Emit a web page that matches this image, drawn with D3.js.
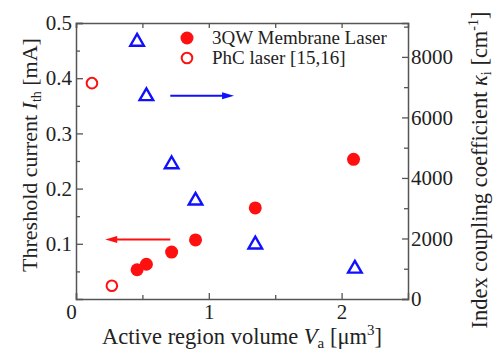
<!DOCTYPE html>
<html><head><meta charset="utf-8">
<script src="https://cdn.jsdelivr.net/npm/d3@7"></script>
<style>
body{margin:0;background:#fff;}
text{font-family:"Liberation Serif","Times New Roman",serif;fill:#222;}
</style></head>
<body><svg id="c" width="495" height="356"></svg>
<script>
// Data
const membraneVolume = [0.46, 0.53, 0.72, 0.90, 1.35, 2.09];
const membraneIth    = [0.053, 0.063, 0.085, 0.107, 0.165, 0.253];
const phcVolume      = [0.12, 0.27];
const phcIth         = [0.391, 0.024];
const kappaVolume    = [0.46, 0.53, 0.72, 0.90, 1.35, 2.10];
const kappaValue     = [8500, 6700, 4450, 3250, 1800, 1000];
const xTicks = [0, 1, 2];
const xMinor = [0.5, 1.5];
const yLeftTicks = [0.1, 0.2, 0.3, 0.4, 0.5];
const yLeftMinor = [0.05, 0.15, 0.25, 0.35, 0.45];
const yRightTicks = [0, 2000, 4000, 6000, 8000];
const yRightMinor = [1000, 3000, 5000, 7000, 9000];
const legendLabels = ["3QW Membrane Laser", "PhC laser [15,16]"];
// arrows: [x0, x1, y]
const blueArrow = [0.71, 1.19, 6720];
const redArrow  = [0.71, 0.22, 0.108];

const svg = d3.select("#c");
const L = 76, R = 408, T = 23, B = 299;
const x = d3.scaleLinear().domain([0, 2.5]).range([L, R]);
const yL = d3.scaleLinear().domain([0, 0.5]).range([B, T]);
const yR = d3.scaleLinear().domain([0, 9120]).range([B, T]);
const RED = "#ff1010", BLUE = "#1010ff", AX = "#555";

function style(g){
  g.select(".domain").attr("stroke", AX).attr("stroke-width", 1.5);
  g.selectAll(".tick line").attr("stroke", AX).attr("stroke-width", 1.3);
  g.selectAll(".tick text").attr("font-size", 21).attr("fill", "#222")
    .attr("font-family", '"Liberation Serif", serif');
}
// bottom
svg.append("g").attr("transform", `translate(0,${B})`)
  .call(d3.axisBottom(x).tickValues(xTicks).tickSize(-6).tickPadding(5).tickFormat(d3.format("d")))
  .call(style).call(g => g.selectAll(".tick text").attr("dx", d => d === 0 ? -5 : 0));
svg.append("g").attr("transform", `translate(0,${B})`)
  .call(d3.axisBottom(x).tickValues(xMinor).tickSize(-4).tickFormat(""))
  .call(style).call(g => g.select(".domain").remove());
// top
svg.append("g").attr("transform", `translate(0,${T})`)
  .call(d3.axisTop(x).tickValues(xTicks.concat(xMinor)).tickSize(-5).tickFormat(""))
  .call(style);
// left
svg.append("g").attr("transform", `translate(${L},0)`)
  .call(d3.axisLeft(yL).tickValues(yLeftTicks).tickSize(-7).tickPadding(4).tickFormat(d3.format(".1f")))
  .call(style);
svg.append("g").attr("transform", `translate(${L},0)`)
  .call(d3.axisLeft(yL).tickValues(yLeftMinor).tickSize(-4).tickFormat(""))
  .call(style).call(g => g.select(".domain").remove());
// right
svg.append("g").attr("transform", `translate(${R},0)`)
  .call(d3.axisRight(yR).tickValues(yRightTicks).tickSize(-6).tickPadding(3).tickFormat(d3.format("d")))
  .call(style);
svg.append("g").attr("transform", `translate(${R},0)`)
  .call(d3.axisRight(yR).tickValues(yRightMinor.filter(v => v < 9120)).tickSize(-4).tickFormat(""))
  .call(style).call(g => g.select(".domain").remove());

// data marks
svg.append("g").selectAll("circle").data(membraneVolume).join("circle")
  .attr("cx", d => x(d)).attr("cy", (d, i) => yL(membraneIth[i])).attr("r", 6.5).attr("fill", RED);
svg.append("g").selectAll("circle").data(phcVolume).join("circle")
  .attr("cx", d => x(d)).attr("cy", (d, i) => yL(phcIth[i])).attr("r", 5.3)
  .attr("fill", "none").attr("stroke", RED).attr("stroke-width", 2);
const tri = d3.symbol().type(d3.symbolTriangle).size(80);
svg.append("g").selectAll("path").data(kappaVolume).join("path")
  .attr("transform", (d, i) => `translate(${x(d)},${yR(kappaValue[i])})`)
  .attr("d", tri).attr("fill", "none").attr("stroke", BLUE).attr("stroke-width", 2.4);

// arrows
function arrow(x0, x1, y, color){
  const dir = x1 > x0 ? 1 : -1;
  svg.append("line").attr("x1", x0).attr("x2", x1 - dir * 8).attr("y1", y).attr("y2", y)
    .attr("stroke", color).attr("stroke-width", 2);
  svg.append("path").attr("d", `M${x1},${y} L${x1 - dir * 12},${y - 3.5} L${x1 - dir * 12},${y + 3.5} Z`)
    .attr("fill", color);
}
arrow(x(blueArrow[0]), x(blueArrow[1]), yR(blueArrow[2]), BLUE);
arrow(x(redArrow[0]), x(redArrow[1]), yL(redArrow[2]), RED);

// legend
const lg = svg.append("g");
lg.append("circle").attr("cx", 187).attr("cy", 38).attr("r", 6.5).attr("fill", RED);
lg.append("circle").attr("cx", 187).attr("cy", 58).attr("r", 5.3).attr("fill", "none").attr("stroke", RED).attr("stroke-width", 2);
lg.selectAll("text").data(legendLabels).join("text")
  .attr("x", 212).attr("y", (d, i) => 44 + i * 20).attr("font-size", 19).text(d => d);

// x title
const xt = svg.append("text").attr("x", 242).attr("y", 344).attr("text-anchor", "middle").attr("font-size", 22.5);
xt.append("tspan").text("Active region volume ");
xt.append("tspan").attr("font-style", "italic").text("V");
xt.append("tspan").attr("font-size", 15).attr("dy", 4).text("a");
xt.append("tspan").attr("dy", -4).text(" [μm");
xt.append("tspan").attr("font-size", 15).attr("dy", -9).text("3");
xt.append("tspan").attr("dy", 9).text("]");

// left title
const lt = svg.append("text").attr("transform", "translate(37,155) rotate(-90)").attr("text-anchor", "middle").attr("font-size", 22);
lt.append("tspan").text("Threshold current ");
lt.append("tspan").attr("font-style", "italic").text("I");
lt.append("tspan").attr("font-size", 14).attr("dy", 4).text("th");
lt.append("tspan").attr("dy", -4).text(" [mA]");

// right title
const rt = svg.append("text").attr("transform", "translate(487,170) rotate(-90)").attr("text-anchor", "middle").attr("font-size", 22.5);
rt.append("tspan").text("Index coupling coefficient ");
rt.append("tspan").attr("font-style", "italic").text("κ");
rt.append("tspan").attr("font-size", 14).attr("dy", 4).text("i");
rt.append("tspan").attr("dy", -4).text(" [cm");
rt.append("tspan").attr("font-size", 14).attr("dy", -9).text("-1");
rt.append("tspan").attr("dy", 9).text("]");
</script></body></html>
